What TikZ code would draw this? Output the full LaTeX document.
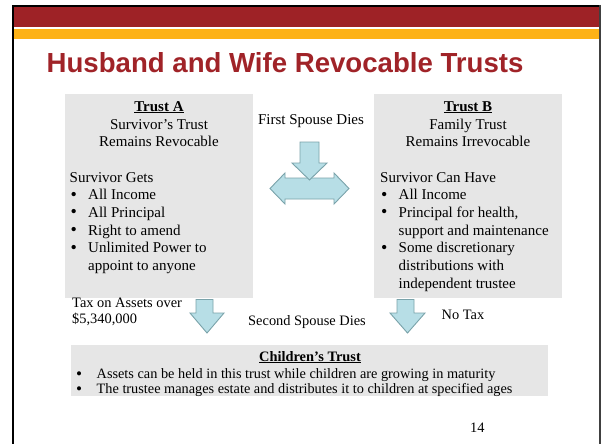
\documentclass[tikz,border=0pt]{standalone}
\usepackage{fontspec}
\setmainfont{Liberation Serif}
\newfontfamily\headfont{Liberation Sans}
\definecolor{bandred}{RGB}{158,34,38}
\definecolor{bandgold}{RGB}{253,178,22}
\definecolor{titlered}{RGB}{160,35,40}
\definecolor{panelgray}{RGB}{230,230,230}
\definecolor{arrowfill}{RGB}{183,222,230}
\definecolor{arrowline}{RGB}{122,163,170}
\newcommand{\dotmark}{\raisebox{-0.9pt}{\scalebox{1.2}{\textbullet}}}
\begin{document}
\begin{tikzpicture}[x=1pt,y=-1pt,
  panel/.style={fill=panelgray, draw=none, inner sep=0pt},
  body/.style={font=\fontsize{15}{17.7}\selectfont, inner sep=0pt},
  small/.style={font=\fontsize{14.4}{16}\selectfont, inner sep=0pt},
  left line/.style={body, anchor=base west},
  mid line/.style={body, anchor=base},
  blockarrow/.style={fill=arrowfill, draw=arrowline, line width=0.9pt, line join=miter}
]
\useasboundingbox (0,0) rectangle (602,444);
\fill[white] (0,0) rectangle (602,444);

% slide frame and header bands
\fill[bandred] (14,7.3) rectangle (599.5,27);
\fill[bandgold] (14,29.3) rectangle (599.5,39.3);
\draw[line width=2.6pt] (13,444) -- (13,6) -- (600,6);
\draw[line width=1.6pt, black!75] (600,5) -- (600,444);

% title
\node[anchor=base west, inner sep=0pt, text=titlered,
      font=\headfont\bfseries\fontsize{27.6}{30}\selectfont] (title) at (46.5,73)
      {Husband and Wife Revocable Trusts};

% panels
\node[panel, minimum width=188, minimum height=203.5] (trustA) at (159,195.75) {};
\node[panel, minimum width=188, minimum height=203.5] (trustB) at (468,195.75) {};
\node[panel, minimum width=477, minimum height=51] (kids) at (309.5,370.5) {};

% Trust A text
\node[mid line] (aHead) at (159,111) {\textbf{\underline{Trust A}}};
\node[mid line] (aSub1) at (159,129) {Survivor’s Trust};
\node[mid line] (aSub2) at (159,146) {Remains Revocable};
\node[left line] (aGets) at (69.5,182) {Survivor Gets};
\foreach \y/\t [count=\i] in {199.5/All Income, 217/All Principal, 235/Right to amend, 252.5/Unlimited Power to}{
  \node[left line] (aBul\i) at (70.5,\y) {\dotmark};
  \node[left line] (aItem\i) at (88,\y) {\t};
}
\node[left line] (aItem5) at (88,270) {appoint to anyone};

% Trust B text
\node[mid line] (bHead) at (468,111) {\textbf{\underline{Trust B}}};
\node[mid line] (bSub1) at (468,129) {Family Trust};
\node[mid line] (bSub2) at (468,146) {Remains Irrevocable};
\node[left line] (bHave) at (380,182) {Survivor Can Have};
\node[left line] (bBul1) at (381,199.5) {\dotmark};
\node[left line] (bItem1) at (398.5,199.5) {All Income};
\node[left line] (bBul2) at (381,217) {\dotmark};
\node[left line] (bItem2) at (398.5,217) {Principal for health,};
\node[left line] (bItem2b) at (398.5,235) {support and maintenance};
\node[left line] (bBul3) at (381,252.5) {\dotmark};
\node[left line] (bItem3) at (398.5,252.5) {Some discretionary};
\node[left line] (bItem3b) at (398.5,270) {distributions with};
\node[left line] (bItem3c) at (398.5,288) {independent trustee};

% first death: split arrow
\node[mid line] (first) at (311,124) {First Spouse Dies};
\draw[blockarrow] (270,188.5) -- (285,173) -- (285,178) -- (334,178) -- (334,173)
  -- (349,188.5) -- (334,204) -- (334,199) -- (285,199) -- (285,204) -- cycle;
\draw[blockarrow] (300,142) -- (319,142) -- (319,163) -- (327,163) -- (309.5,180)
  -- (292,163) -- (300,163) -- cycle;

% second death row
\node[small, anchor=base west] (tax1) at (72,307) {Tax on Assets over};
\node[small, anchor=base west] (tax2) at (72,323) {\$5,340,000};
\node[small, anchor=base] (second) at (307,325.5) {Second Spouse Dies};
\node[small, anchor=base west] (notax) at (441.5,319.5) {No Tax};
\draw[blockarrow] (196,299.5) -- (213,299.5) -- (213,313) -- (224,313) -- (207,333)
  -- (190,313) -- (196,313) -- cycle;
\draw[blockarrow] (397,299.5) -- (414,299.5) -- (414,313) -- (425,313) -- (407.5,333)
  -- (390,313) -- (397,313) -- cycle;

% Children's Trust text
\node[small, anchor=base] (kHead) at (310,361) {\textbf{\underline{Children’s Trust}}};
\node[font=\fontsize{14.3}{15.2}\selectfont, inner sep=0pt, anchor=base west,
      align=left] (kItems) at (76,393.8)
  {\makebox[20.5pt][l]{\dotmark}Assets can be held in this trust while children are growing in maturity\\
   \makebox[20.5pt][l]{\dotmark}The trustee manages estate and distributes it to children at specified ages};

% slide number
\node[small, anchor=base west] (page) at (470,432.5) {14};
\end{tikzpicture}
\end{document}
